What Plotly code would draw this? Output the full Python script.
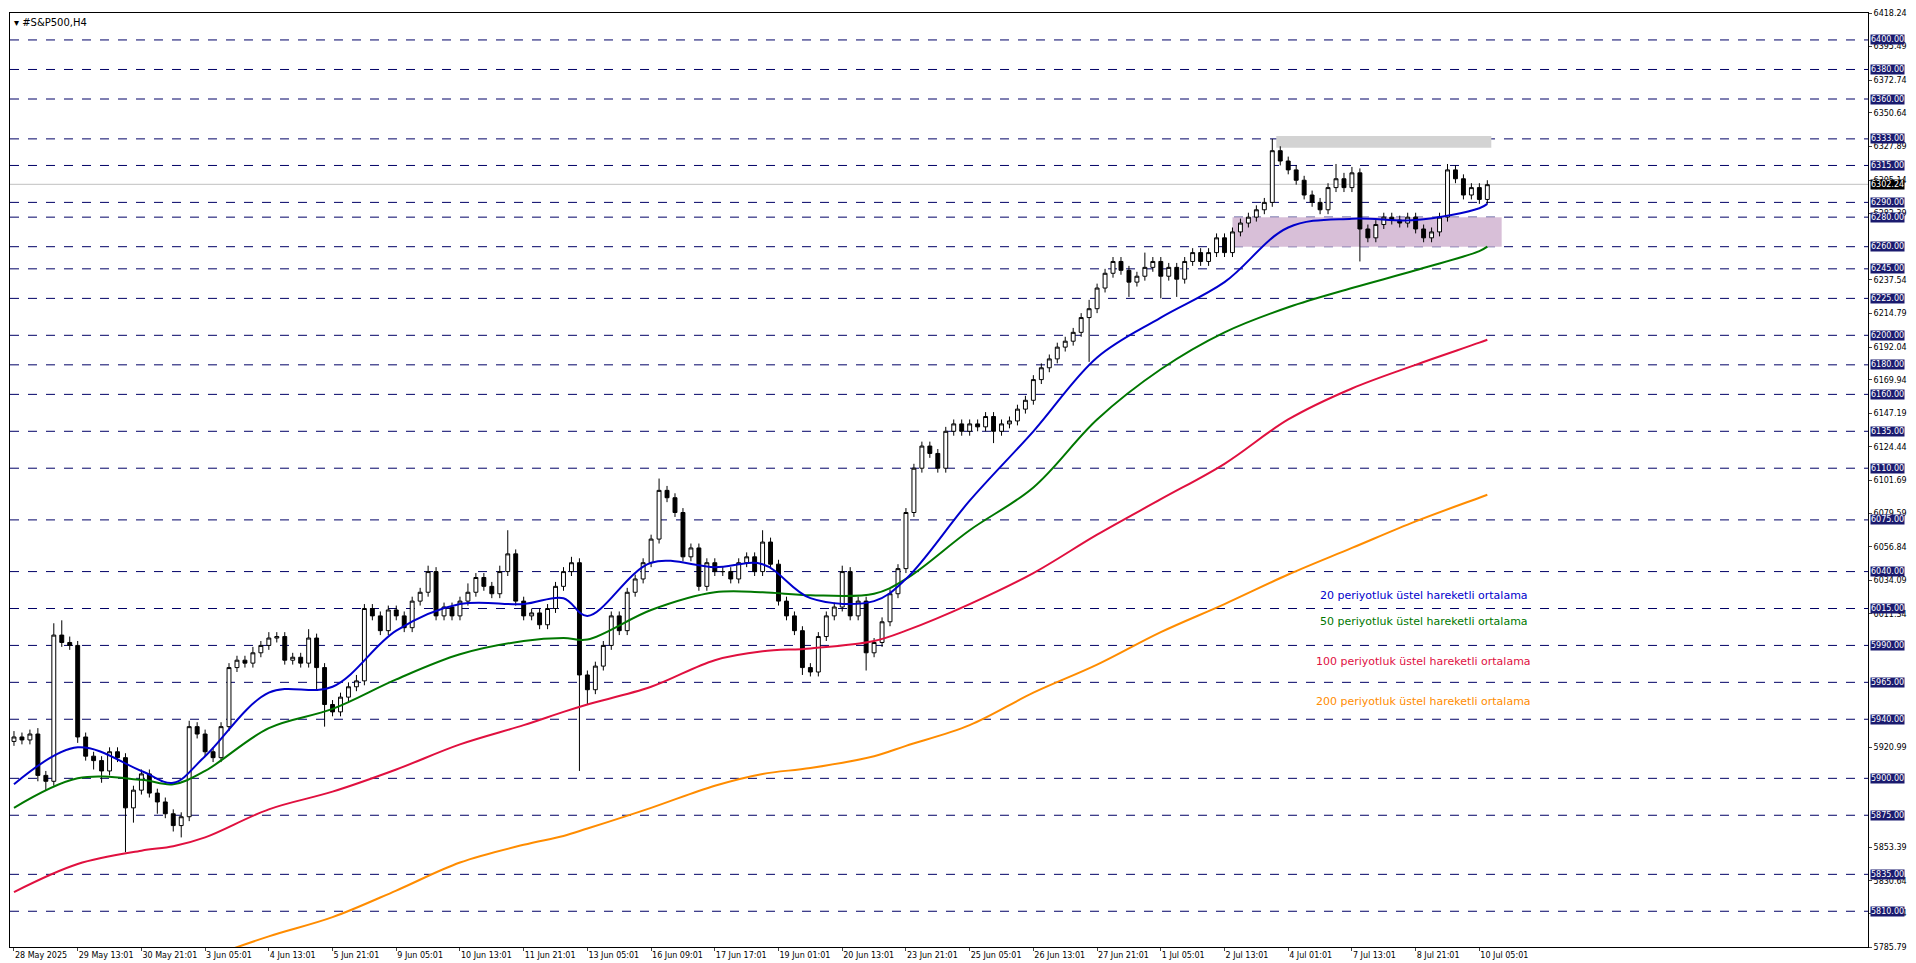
import plotly.graph_objects as go

closes = [
    5928, 5926, 5930, 5902, 5898, 5997, 5992, 5990,
    5928, 5915, 5912, 5905, 5918, 5914, 5880, 5892,
    5903, 5890, 5884, 5876, 5868, 5874, 5935, 5930,
    5918, 5914, 5935, 5975, 5980, 5978, 5985, 5990,
    5995, 5996, 5980, 5982, 5978, 5995, 5975, 5950,
    5945, 5955, 5962, 5966, 6015, 6010, 6000, 6014,
    6010, 6002, 6020, 6026, 6040, 6010, 6016, 6010,
    6020, 6026, 6036, 6030, 6025, 6040, 6052, 6020,
    6010, 6012, 6004, 6015, 6030, 6040, 6046, 5970,
    5960, 5976, 5990, 6010, 6000, 6026, 6035, 6046,
    6062, 6095, 6090, 6080, 6050, 6056, 6030, 6046,
    6040, 6040, 6035, 6046, 6050, 6040, 6060, 6045,
    6020, 6010, 6000, 5975, 5972, 5996, 6010, 6016,
    6040, 6010, 6020, 5985, 5992, 6006, 6025, 6042,
    6080, 6110, 6125, 6120, 6110, 6135, 6140, 6135,
    6140, 6138, 6145, 6135, 6140, 6142, 6150, 6156,
    6170, 6178, 6184, 6192, 6196, 6202, 6212, 6218,
    6232, 6242, 6250, 6244, 6236, 6240, 6246, 6250,
    6240, 6246, 6238, 6250, 6256, 6250, 6256, 6266,
    6256, 6270, 6276, 6280, 6285, 6290, 6325, 6318,
    6312, 6305, 6295, 6290, 6285, 6300, 6306, 6300,
    6310, 6272, 6266, 6275, 6280, 6278, 6276, 6280,
    6272, 6266, 6270, 6280, 6312, 6306, 6295, 6300, 6292, 6302,
]
first_open = 5925

upper_wick = [
    4, 3, 3, 4, 3, 8, 10, 4,
    3, 3, 3, 3, 3, 3, 3, 3,
    3, 3, 3, 3, 3, 3, 4, 3,
    3, 3, 3, 3, 3, 3, 4, 3,
    4, 3, 3, 3, 3, 6, 3, 3,
    3, 3, 3, 4, 3, 3, 3, 3,
    3, 3, 3, 3, 4, 3, 3, 3,
    3, 6, 3, 3, 3, 4, 16, 3,
    3, 3, 3, 3, 3, 3, 4, 3,
    3, 3, 3, 3, 3, 3, 3, 3,
    3, 8, 3, 3, 3, 3, 3, 3,
    3, 3, 3, 3, 3, 3, 8, 3,
    3, 3, 3, 3, 3, 3, 3, 3,
    4, 3, 3, 3, 3, 3, 3, 3,
    3, 3, 3, 3, 3, 3, 3, 3,
    3, 3, 3, 3, 3, 3, 3, 3,
    3, 3, 3, 3, 3, 3, 3, 6,
    3, 3, 3, 3, 3, 3, 10, 3,
    3, 3, 3, 3, 3, 3, 3, 3,
    3, 3, 3, 3, 3, 3, 8, 3,
    3, 3, 3, 3, 3, 3, 10, 4,
    4, 3, 3, 3, 3, 3, 3, 3,
    3, 3, 3, 3, 4, 3, 3, 3, 3, 3,
]
lower_wick = [
    3, 3, 3, 4, 6, 3, 3, 3,
    4, 3, 6, 8, 3, 3, 30, 10,
    3, 3, 8, 3, 4, 8, 3, 3,
    3, 3, 3, 3, 3, 3, 3, 3,
    3, 3, 3, 3, 3, 3, 15, 15,
    3, 3, 3, 3, 3, 3, 3, 3,
    3, 3, 3, 3, 3, 3, 3, 3,
    3, 3, 3, 3, 3, 3, 3, 3,
    3, 3, 3, 3, 3, 3, 3, 65,
    10, 3, 3, 3, 3, 3, 3, 3,
    3, 3, 3, 3, 3, 3, 3, 3,
    3, 3, 3, 3, 3, 3, 3, 3,
    3, 3, 3, 5, 3, 3, 3, 3,
    3, 3, 3, 12, 3, 3, 3, 3,
    3, 3, 3, 3, 3, 3, 3, 3,
    3, 3, 3, 8, 3, 3, 3, 3,
    3, 3, 3, 3, 3, 3, 3, 30,
    3, 3, 3, 3, 10, 3, 3, 3,
    15, 3, 12, 3, 3, 3, 3, 3,
    3, 3, 3, 3, 3, 3, 3, 3,
    3, 3, 3, 3, 3, 3, 3, 3,
    3, 22, 3, 3, 3, 3, 3, 3,
    3, 3, 3, 3, 3, 3, 3, 3, 3, 3,
]

ema_idx = [0, 8, 16, 20, 24, 32, 40, 48, 56, 64, 69, 72, 80, 88, 94, 100, 108, 112,
           120, 128, 136, 144, 152, 160, 168, 176, 184, 185]
ema20 = [5896, 5921, 5905, 5897, 5915, 5958, 5962, 6000, 6018, 6018, 6022, 6010, 6046, 6043,
         6045, 6022, 6020, 6035, 6088, 6135, 6185, 6212, 6236, 6273, 6279, 6278, 6286, 6289]
ema50 = [5880, 5900, 5899, 5896, 5905, 5934, 5947, 5967, 5984, 5993, 5995, 5994, 6014, 6026,
         6026, 6024, 6025, 6035, 6068, 6097, 6143, 6177, 6202, 6219, 6232, 6244, 6257, 6260]
ema100 = [5823, 5842, 5851, 5854, 5860, 5879, 5891, 5906, 5923, 5936, 5945, 5950, 5962, 5980,
          5986, 5988, 5993, 6000, 6018, 6039, 6065, 6089, 6113, 6143, 6164, 6180, 6195, 6197]
ema200 = [5740, 5752, 5764, 5770, 5778, 5793, 5806, 5824, 5843, 5855, 5861, 5866, 5880, 5895,
          5903, 5907, 5915, 5922, 5936, 5958, 5977, 5999, 6018, 6038, 6056, 6074, 6090, 6092]

x_labels = ["28 May 2025", "29 May 13:01", "30 May 21:01", "3 Jun 05:01", "4 Jun 13:01",
            "5 Jun 21:01", "9 Jun 05:01", "10 Jun 13:01", "11 Jun 21:01", "13 Jun 05:01",
            "16 Jun 09:01", "17 Jun 17:01", "19 Jun 01:01", "20 Jun 13:01", "23 Jun 21:01",
            "25 Jun 05:01", "26 Jun 13:01", "27 Jun 21:01", "1 Jul 05:01", "2 Jul 13:01",
            "4 Jul 01:01", "7 Jul 13:01", "8 Jul 21:01", "10 Jul 05:01"]

levels = [6400, 6380, 6360, 6333, 6315, 6290, 6280, 6260, 6245, 6225, 6200, 6180, 6160,
          6135, 6110, 6075, 6040, 6015, 5990, 5965, 5940, 5900, 5875, 5835, 5810]
scale_ticks = [6418.24, 6395.49, 6372.74, 6350.64, 6327.89, 6305.14, 6282.39, 6237.54,
               6214.79, 6192.04, 6169.94, 6147.19, 6124.44, 6101.69, 6079.59, 6056.84,
               6034.09, 6011.34, 5920.99, 5853.39, 5830.64, 5808.54, 5785.79]
last_price = 6302.24

legend_names = ["20 periyotluk üstel hareketli ortalama", "50 periyotluk üstel hareketli ortalama",
                "100 periyotluk üstel hareketli ortalama", "200 periyotluk üstel hareketli ortalama"]
legend_y = [6024, 6006, 5979, 5952]
ema_colors = ["#0000cc", "#007700", "#e0103f", "#ff8c00"]

n = len(closes)
xs = list(range(n))
opens = [first_open] + closes[:-1]
highs = [max(o, c) + u for o, c, u in zip(opens, closes, upper_wick)]
lows = [min(o, c) - w for o, c, w in zip(opens, closes, lower_wick)]

fig = go.Figure()

fig.add_trace(go.Candlestick(
    x=xs, open=opens, high=highs, low=lows, close=closes,
    increasing=dict(line=dict(color="black", width=1), fillcolor="white"),
    decreasing=dict(line=dict(color="black", width=1), fillcolor="black"),
    whiskerwidth=0, showlegend=False, hoverinfo="skip"))

for vals, col in zip([ema200, ema100, ema50, ema20], ema_colors[::-1]):
    fig.add_trace(go.Scatter(x=ema_idx, y=vals, mode="lines", line=dict(color=col, width=2),
                             line_shape="spline", showlegend=False, hoverinfo="skip"))

shapes = []
for lv in levels:
    shapes.append(dict(type="line", xref="paper", x0=0, x1=1, yref="y", y0=lv, y1=lv,
                       line=dict(color="#000066", width=1, dash="dash"), layer="below"))
shapes.append(dict(type="line", xref="paper", x0=0, x1=1, yref="y", y0=last_price, y1=last_price,
                   line=dict(color="#c0c0c0", width=1), layer="below"))
shapes.append(dict(type="rect", x0=158.5, x1=185.5, y0=6327, y1=6335,
                   fillcolor="#d3d3d3", line_width=0, layer="below"))
shapes.append(dict(type="rect", x0=153, x1=186.8, y0=6260, y1=6280,
                   fillcolor="#d8bfd8", line_width=0, layer="below"))

annotations = []
for lv in levels:
    annotations.append(dict(xref="paper", x=1.001, y=lv, yref="y", text=f"{lv:.2f}",
                            showarrow=False, xanchor="left", bgcolor="#1a1a6e",
                            font=dict(color="white", size=8, family="DejaVu Sans"), borderpad=0))
annotations.append(dict(xref="paper", x=1.001, y=last_price, yref="y", text=f"{last_price:.2f}",
                        showarrow=False, xanchor="left", bgcolor="black",
                        font=dict(color="white", size=8, family="DejaVu Sans"), borderpad=0))
for name, yv, col in zip(legend_names, legend_y, ema_colors):
    annotations.append(dict(x=177, y=yv, text=name, showarrow=False,
                            font=dict(color=col, size=11, family="DejaVu Sans")))
annotations.append(dict(xref="paper", yref="paper", x=0.001, y=0.998, xanchor="left",
                        yanchor="top", text="▾ #S&P500,H4", showarrow=False,
                        font=dict(size=10, color="black", family="DejaVu Sans")))

fig.update_layout(
    width=1916, height=963, plot_bgcolor="white", paper_bgcolor="white",
    margin=dict(l=2, r=56, t=5, b=24),
    shapes=shapes, annotations=annotations,
    xaxis=dict(range=[-0.5, 232.8], tickvals=[8 * k for k in range(len(x_labels))],
               ticktext=x_labels, showgrid=False, rangeslider=dict(visible=False),
               showline=True, linecolor="black", mirror=True, ticks="outside",
               ticklen=3, tickangle=0, ticklabelposition="outside right",
               tickfont=dict(size=8, family="DejaVu Sans", color="black"),
               zeroline=False),
    yaxis=dict(range=[5785.79, 6418.24], side="right", tickvals=scale_ticks,
               ticktext=[f"{t:.2f}" for t in scale_ticks], showgrid=False,
               showline=True, linecolor="black", mirror=True, ticks="outside", ticklen=3,
               tickfont=dict(size=8, family="DejaVu Sans", color="black"), zeroline=False),
)

fig.write_html("out.html")
